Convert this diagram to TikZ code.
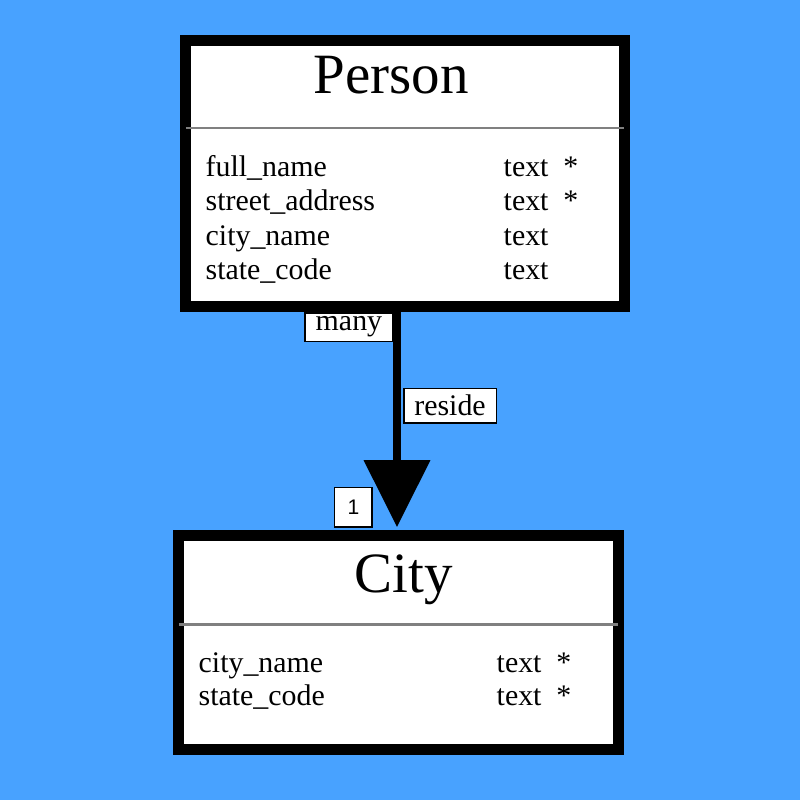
\documentclass[tikz,border=0pt]{standalone}
\usepackage{fontspec}
\setmainfont{Liberation Serif}
\newfontfamily\tagsans{Liberation Sans}
\usetikzlibrary{arrows.meta}

\definecolor{bgblue}{RGB}{72,162,255}
\newcommand{\attrfont}{\fontsize{8.5}{10}\selectfont}
\newcommand{\titlefont}{\fontsize{16.2}{19}\selectfont}

\begin{document}
\begin{tikzpicture}[
    x=0.01cm, y=-0.01cm,
    entity/.style={rectangle, draw=black, fill=white, line width=3.1pt, inner sep=0},
    sep/.style={draw=gray, line width=.85pt, shorten <=.06cm, shorten >=.06cm},
    title/.style={anchor=base, font=\titlefont, inner sep=0},
    attr/.style={anchor=base west, font=\attrfont, inner sep=0},
    tag/.style={draw=black, fill=white, line width=.45pt, inner sep=0, font=\attrfont},
    rel/.style={line width=2pt, -{Triangle[length=19pt,width=18.5pt]}, shorten >=.03cm},
    ]
    \fill[bgblue] (0,0) rectangle (800,800);
    \useasboundingbox (0,0) rectangle (800,800);

    % entities
    \node[entity, minimum width=4.39cm, minimum height=2.66cm] (person) at (405,173.5) {};
    \node[entity, minimum width=4.40cm, minimum height=2.14cm] (city) at (398.5,642.5) {};
    \draw[sep] (person.west |- 0,128) -- (person.east |- 0,128);
    \draw[sep] (city.west |- 0,624) -- (city.east |- 0,624);

    % Person
    \node[title] (ptitle) at (391,93) {Person};
    \node[attr] (pa1) at (205,176) {full\_name};
    \node[attr] (pa2) at (205,210) {street\_address};
    \node[attr] (pa3) at (205,245) {city\_name};
    \node[attr] (pa4) at (205,279) {state\_code};
    \node[attr] (pt1) at (503,176) {text\enspace*};
    \node[attr] (pt2) at (503,210) {text\enspace*};
    \node[attr] (pt3) at (503,245) {text};
    \node[attr] (pt4) at (503,279) {text};

    % City
    \node[title] (ctitle) at (404,592) {City};
    \node[attr] (ca1) at (198,672) {city\_name};
    \node[attr] (ca2) at (198,705) {state\_code};
    \node[attr] (ct1) at (496,672) {text\enspace*};
    \node[attr] (ct2) at (496,705) {text\enspace*};

    % relationship
    \coordinate (cx) at (397,0);
    \draw[rel] (person.south -| cx) -- (city.north -| cx)
        node[tag, pos=0, anchor=north east, xshift=-.035cm, minimum width=.875cm, minimum height=.285cm] (many) {many}
        node[tag, pos=.43, anchor=west, xshift=.06cm, minimum width=.925cm, minimum height=.345cm] (reside) {reside}
        node[tag, pos=1, anchor=south east, xshift=-.24cm, yshift=.02cm, minimum width=.375cm, minimum height=.395cm, font=\tagsans\fontsize{6}{7}\selectfont] (one) {1};
\end{tikzpicture}
\end{document}
